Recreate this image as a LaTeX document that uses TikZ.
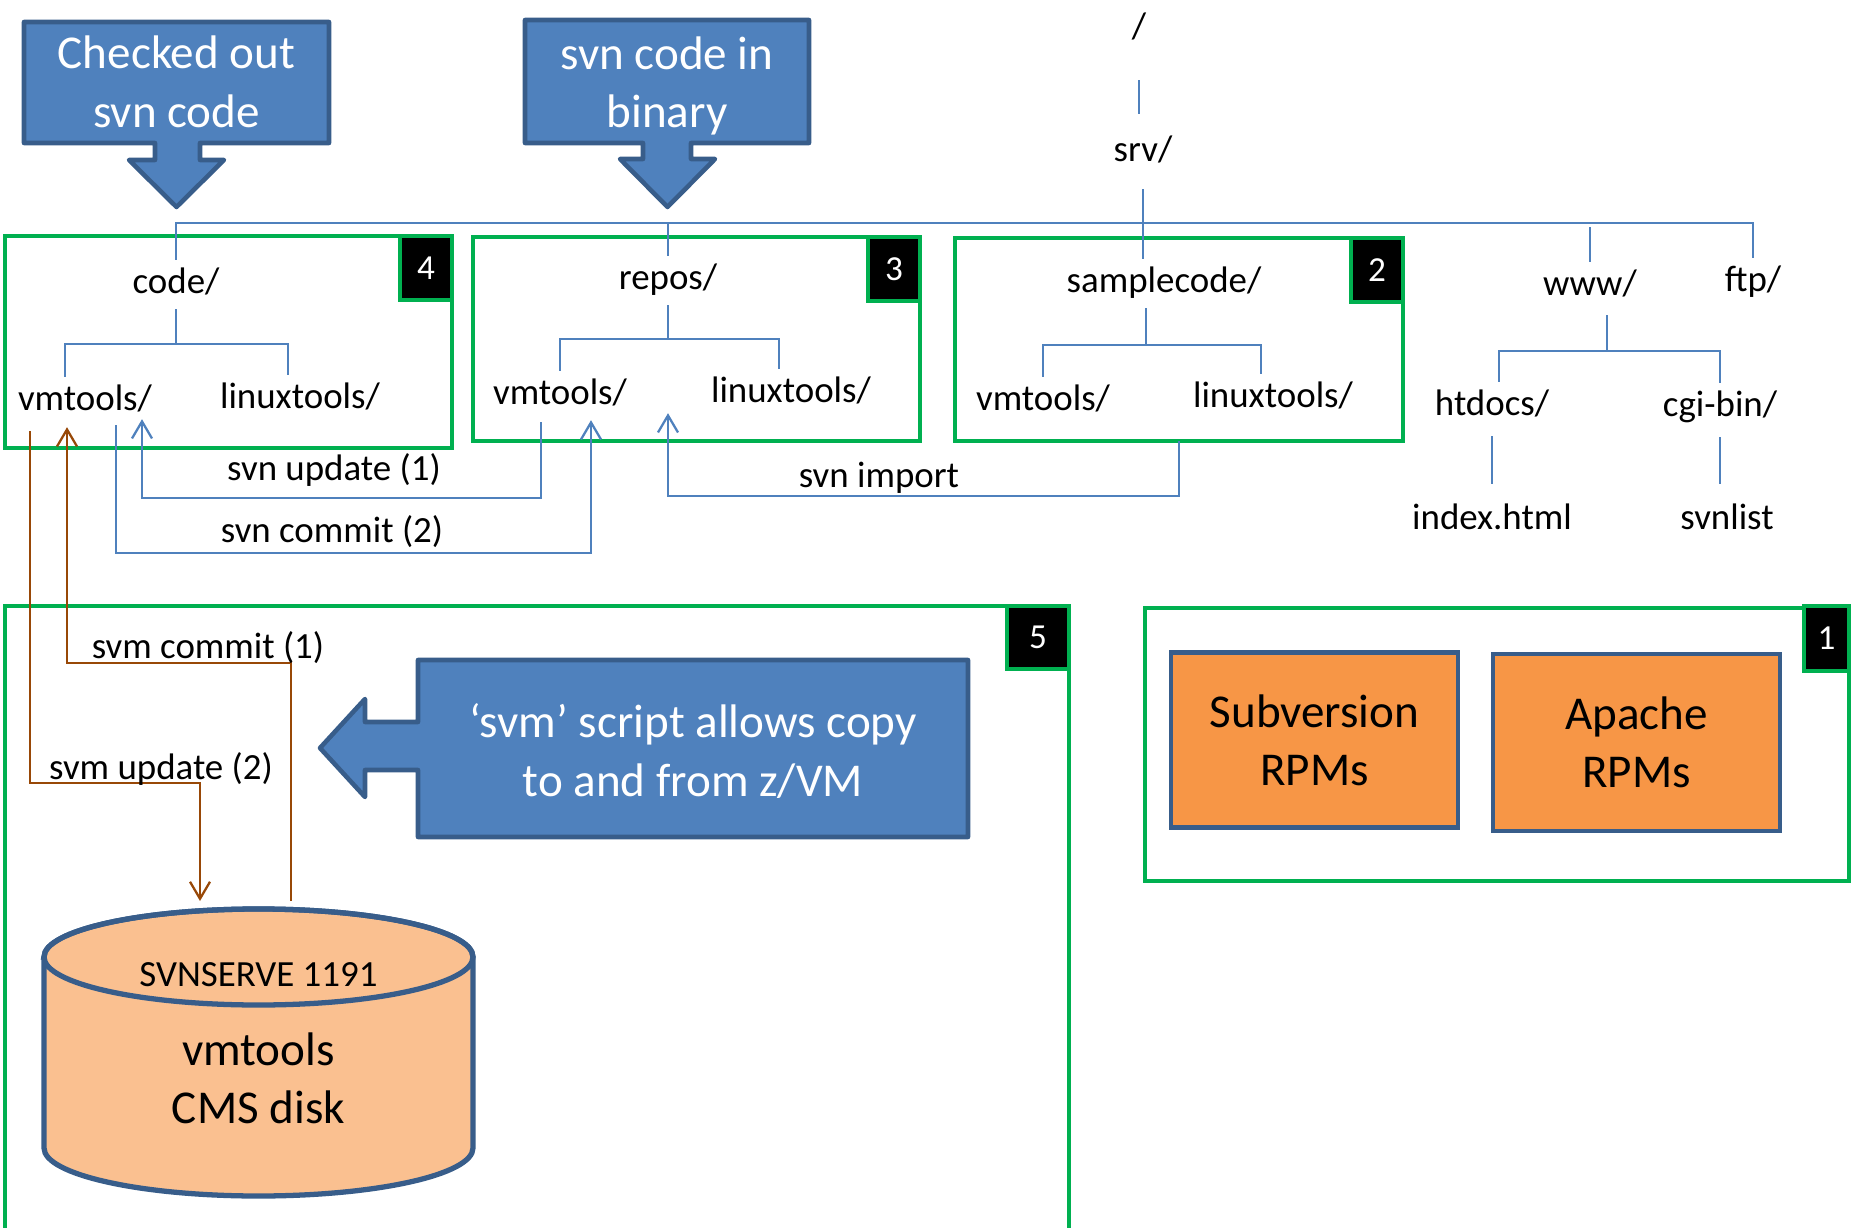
\documentclass[tikz,border=0pt]{standalone}
\usepackage{fontspec}
\setmainfont{Carlito}
\usetikzlibrary{arrows.meta}

\definecolor{boxblue}{HTML}{4F81BD}
\definecolor{edgeblue}{HTML}{385D8A}
\definecolor{areagreen}{HTML}{00B050}
\definecolor{rpmorange}{HTML}{F79646}
\definecolor{diskorange}{HTML}{FAC090}
\definecolor{svmbrown}{HTML}{984807}

\tikzset{
	dir/.style={inner sep=0.03cm, text height=0.30cm, text depth=0.05cm, font=\fontsize{10.5}{12.8}\selectfont},
	lbl/.style={dir},
	tree/.style={draw=boxblue, line width=0.65pt},
	flow/.style={draw=boxblue, line width=0.65pt, -{Straight Barb[length=0.17cm,width=0.2cm]}},
	svmflow/.style={draw=svmbrown, line width=0.65pt, -{Straight Barb[length=0.17cm,width=0.2cm]}},
	frame/.style={draw=areagreen, line width=0.95pt},
	area/.style={frame, anchor=north west, inner sep=0, outer sep=0},
	badge/.style={fill=black, draw=areagreen, line width=0.95pt, text=white, anchor=north east,
		minimum width=0.52cm, minimum height=0.64cm, inner sep=0, outer sep=0, font=\fontsize{10}{12}\selectfont},
	callout/.style={fill=boxblue, draw=edgeblue, line width=1.3pt, line join=round},
	bigtext/.style={align=center, font=\fontsize{13.4}{16.6}\selectfont},
	rpm/.style={bigtext, fill=rpmorange, draw=edgeblue, line width=1.4pt, minimum width=2.87cm, minimum height=1.75cm}
}

\begin{document}
\begin{tikzpicture}

	\useasboundingbox (0,0) rectangle (18.6,-12.28);

	% callouts
	\draw[callout] (0.24,-0.22) -- (3.29,-0.22) -- (3.29,-1.43) -- (2.00,-1.43) -- (2.00,-1.60) -- (2.24,-1.60)
		-- (1.765,-2.07) -- (1.29,-1.60) -- (1.55,-1.60) -- (1.55,-1.43) -- (0.24,-1.43) -- cycle;
	\node[bigtext, text=white] (checkout) at (1.765,-0.82) {Checked out\\svn code};

	\draw[callout] (5.25,-0.20) -- (8.09,-0.20) -- (8.09,-1.43) -- (6.91,-1.43) -- (6.91,-1.59) -- (7.15,-1.59)
		-- (6.675,-2.07) -- (6.20,-1.59) -- (6.43,-1.59) -- (6.43,-1.43) -- (5.25,-1.43) -- cycle;
	\node[bigtext, text=white] (binary) at (6.67,-0.86) {svn code in\\binary};

	\draw[callout] (4.18,-6.60) -- (9.68,-6.60) -- (9.68,-8.37) -- (4.18,-8.37) -- (4.18,-7.70) -- (3.65,-7.70)
		-- (3.65,-7.97) -- (3.20,-7.48) -- (3.65,-6.99) -- (3.65,-7.22) -- (4.18,-7.22) -- cycle;
	\node[bigtext, text=white] (svmnote) at (6.93,-7.51) {‘svm’ script allows copy\\to and from z/VM};

	% numbered areas
	\node[area, minimum width=4.47cm, minimum height=2.12cm] (box4) at (0.05,-2.36) {};
	\node[area, minimum width=4.47cm, minimum height=2.04cm] (box3) at (4.73,-2.37) {};
	\node[area, minimum width=4.48cm, minimum height=2.03cm] (box2) at (9.55,-2.38) {};
	\node[area, minimum width=7.04cm, minimum height=2.73cm] (box1) at (11.45,-6.08) {};
	\draw[frame] (0.05,-12.40) -- (0.05,-6.06) -- (10.69,-6.06) -- (10.69,-12.40);

	\node[badge] (badge4) at (box4.north east) {4};
	\node[badge] (badge3) at (box3.north east) {3};
	\node[badge] (badge2) at (box2.north east) {2};
	\node[badge, minimum width=0.62cm, minimum height=0.63cm] (badge5) at (10.69,-6.06) {5};
	\node[badge, minimum width=0.45cm, minimum height=0.65cm] (badge1) at (18.49,-6.06) {1};

	\node[rpm] (svnrpm) at (13.145,-7.40) {Subversion\\RPMs};
	\node[rpm, minimum height=1.77cm] (apacherpm) at (16.365,-7.425) {Apache\\RPMs};

	% directory tree
	\node[dir] (root)    at (11.39,-0.26) {/};
	\node[dir] (srv)     at (11.43,-1.49) {srv/};
	\node[dir] (code)    at (1.76,-2.81)  {code/};
	\node[dir] (repos)   at (6.68,-2.77)  {repos/};
	\node[dir] (sample)  at (11.64,-2.80) {samplecode/};
	\node[dir] (www)     at (15.90,-2.83) {www/};
	\node[dir] (ftp)     at (17.53,-2.79) {ftp/};
	\node[dir] (vmA)     at (0.85,-3.98)  {vmtools/};
	\node[dir] (lxA)     at (3.00,-3.96)  {linuxtools/};
	\node[dir] (vmB)     at (5.60,-3.92)  {vmtools/};
	\node[dir] (lxB)     at (7.91,-3.90)  {linuxtools/};
	\node[dir] (vmC)     at (10.43,-3.98) {vmtools/};
	\node[dir] (lxC)     at (12.73,-3.95) {linuxtools/};
	\node[dir] (htdocs)  at (14.92,-4.03) {htdocs/};
	\node[dir] (cgibin)  at (17.20,-4.04) {cgi-bin/};
	\node[dir] (index)   at (14.92,-5.17) {index.html};
	\node[dir] (svnlist) at (17.27,-5.17) {svnlist};

	\coordinate (bus) at (0,-2.23);

	\draw[tree, shorten <=0.33cm, shorten >=0.14cm] (root.south) -- (root.south |- srv.north);
	\draw[tree, shorten <=0.19cm] (srv.south) -- (srv.south |- sample.north);
	\draw[tree] (code.north) -- (code.north |- bus) -- (ftp.north |- bus) -- (ftp.north);
	\draw[tree] (repos.north) -- (repos.north |- bus);
	\draw[tree, shorten >=0.04cm] (www.north) -- (www.north |- bus);

	\draw[tree, shorten <=0.07cm] (code.south) -- ++(0,-0.42) coordinate (codeJ);
	\draw[tree] ([xshift=-0.2cm]vmA.north) |- (codeJ) -| ([xshift=-0.12cm]lxA.north);
	\draw[tree, shorten <=0.07cm] (repos.south) -- ++(0,-0.41) coordinate (reposJ);
	\draw[tree] (vmB.north) |- (reposJ) -| ([xshift=-0.12cm]lxB.north);
	\draw[tree, shorten <=0.07cm] ([xshift=-0.18cm]sample.south) -- ++(0,-0.44) coordinate (sampleJ);
	\draw[tree] (vmC.north) |- (sampleJ) -| ([xshift=-0.12cm]lxC.north);
	\draw[tree, shorten <=0.11cm] ([xshift=0.17cm]www.south) -- ++(0,-0.47) coordinate (wwwJ);
	\draw[tree] ([xshift=0.07cm]htdocs.north) |- (wwwJ) -| (cgibin.north);
	\draw[tree, shorten <=0.12cm, shorten >=0.12cm] (htdocs.south) -- (htdocs.south |- index.north);
	\draw[tree, shorten <=0.12cm, shorten >=0.12cm] (cgibin.south) -- (cgibin.south |- svnlist.north);

	% svn operations
	\draw[flow, shorten <=0.09cm] ([xshift=-0.19cm]vmB.south) -- ++(0,-0.85) -| ([xshift=0.57cm]vmA.south);
	\node[lbl] (updlbl) at (3.34,-4.68) {svn update (1)};
	\draw[flow, shorten <=0.06cm, shorten >=0.07cm] ([xshift=0.31cm]vmA.south) -- ++(0,-1.34) -| ([xshift=0.31cm]vmB.south);
	\node[lbl] (commitlbl) at (3.32,-5.30) {svn commit (2)};
	\draw[flow] (box2.south) -- ++(0,-0.55) -| (repos |- vmB.south);
	\node[lbl] (importlbl) at (8.79,-4.75) {svn import};

	% CMS disk
	\draw[fill=diskorange, draw=edgeblue, line width=1.5pt] (0.44,-9.57) -- (0.44,-11.48)
		arc[start angle=180, end angle=360, x radius=2.145, y radius=0.48] -- (4.73,-9.57)
		arc[start angle=0, end angle=180, x radius=2.145, y radius=0.48] -- cycle;
	\draw[draw=edgeblue, line width=1.5pt] (2.585,-9.57) ellipse[x radius=2.145, y radius=0.48];
	\node[dir] (svnserve) at (2.585,-9.74) {SVNSERVE 1191};
	\node[bigtext] (disk) at (2.585,-10.78) {vmtools\\CMS disk};
	\coordinate (disktop) at (2.585,-9.01);

	% svm operations
	\draw[svmflow, shorten <=0.12cm] ([xshift=-0.55cm]vmA.south) -- ++(0,-3.64) -| ([xshift=-0.585cm]disktop);
	\node[lbl] (svmupd) at (1.61,-7.67) {svm update (2)};
	\draw[svmflow, shorten >=0.08cm] ([xshift=0.325cm]disktop) -- ++(0,2.38) -| ([xshift=-0.18cm]vmA.south);
	\node[lbl] (svmcommit) at (2.08,-6.46) {svm commit (1)};

\end{tikzpicture}
\end{document}
